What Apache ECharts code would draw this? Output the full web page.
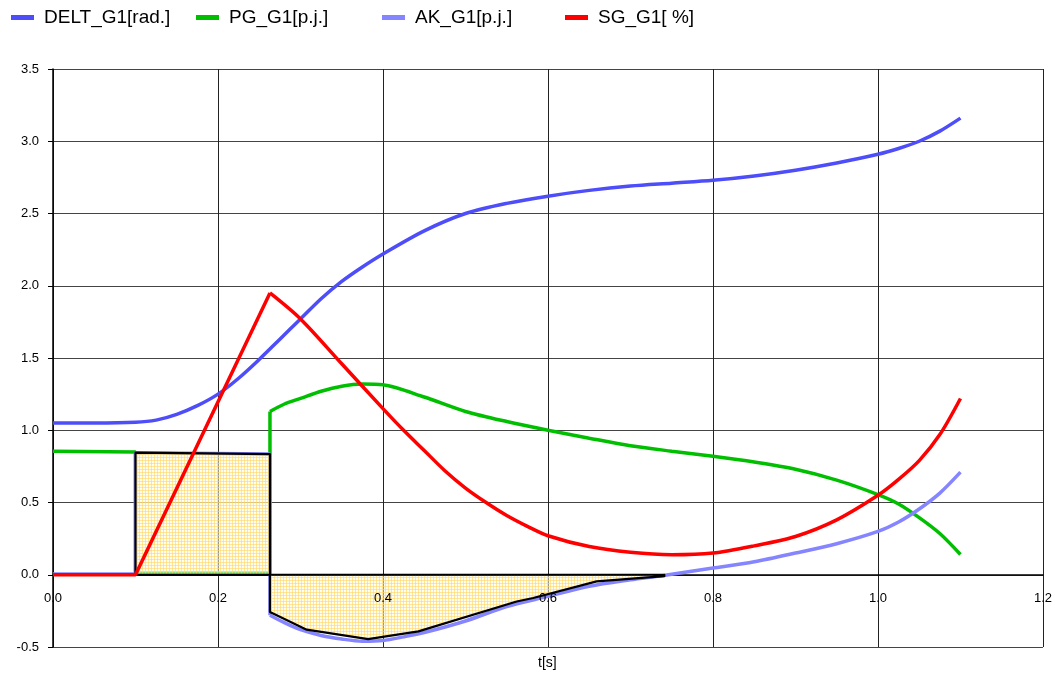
<!DOCTYPE html>
<html>
<head>
<meta charset="utf-8">
<script src="https://cdn.jsdelivr.net/npm/echarts@6/dist/echarts.min.js"></script>
<style>
  html, body { margin: 0; padding: 0; background: #fff; }
  #chart { width: 1055px; height: 675px; }
</style>
</head>
<body>
<div id="chart"></div>
<script>
// Time axis ticks [s] and value axis ticks
const xTicks = [0.0, 0.2, 0.4, 0.6, 0.8, 1.0, 1.2];
const yTicks = [-0.5, 0.0, 0.5, 1.0, 1.5, 2.0, 2.5, 3.0, 3.5];

// Series names
const seriesNames = ['DELT_G1[rad.]', 'PG_G1[p.j.]', 'AK_G1[p.j.]', 'SG_G1[ %]'];

// Rotor angle [rad]
const deltT = [0, 0.05, 0.1, 0.125, 0.15, 0.175, 0.2, 0.225, 0.25, 0.275, 0.3, 0.325, 0.35, 0.375, 0.4, 0.45, 0.5, 0.55, 0.6, 0.65, 0.7, 0.75, 0.8, 0.85, 0.9, 0.95, 1.0, 1.025, 1.05, 1.075, 1.1];
const deltV = [1.05, 1.05, 1.055, 1.07, 1.11, 1.17, 1.25, 1.36, 1.49, 1.63, 1.77, 1.91, 2.03, 2.13, 2.22, 2.38, 2.50, 2.57, 2.62, 2.66, 2.69, 2.71, 2.73, 2.76, 2.80, 2.85, 2.91, 2.95, 3.00, 3.07, 3.16];

// Electrical power [p.u.]: switching steps, then post-fault swing
const pgStepT = [0, 0.1, 0.1, 0.263, 0.263];
const pgStepV = [0.855, 0.85, 0.01, 0.01, 1.13];
const pgT = [0.263, 0.28, 0.3, 0.325, 0.35, 0.375, 0.4, 0.45, 0.5, 0.55, 0.6, 0.65, 0.7, 0.75, 0.8, 0.85, 0.9, 0.95, 1.0, 1.025, 1.05, 1.075, 1.1];
const pgV = [1.13, 1.18, 1.22, 1.27, 1.305, 1.32, 1.315, 1.23, 1.13, 1.06, 1.0, 0.945, 0.893, 0.855, 0.82, 0.78, 0.73, 0.655, 0.555, 0.49, 0.395, 0.285, 0.14];

// Accelerating power [p.u.]: switching steps, then post-fault swing
const akStepT = [0, 0.1, 0.1, 0.263, 0.263];
const akStepV = [0.005, 0.005, 0.845, 0.835, -0.28];
const akT = [0.263, 0.28, 0.3, 0.325, 0.35, 0.375, 0.4, 0.425, 0.45, 0.5, 0.55, 0.6, 0.65, 0.7, 0.74, 0.8, 0.85, 0.9, 0.95, 1.0, 1.025, 1.05, 1.075, 1.1];
const akV = [-0.28, -0.33, -0.38, -0.42, -0.445, -0.46, -0.455, -0.43, -0.40, -0.32, -0.22, -0.15, -0.08, -0.035, -0.005, 0.046, 0.09, 0.15, 0.215, 0.30, 0.365, 0.455, 0.565, 0.71];

// Slip [%]: ramp during the fault, then decay and rise
const sgRiseT = [0, 0.1, 0.263];
const sgRiseV = [0, 0, 1.95];
const sgT = [0.263, 0.3, 0.35, 0.4, 0.425, 0.45, 0.475, 0.5, 0.525, 0.55, 0.575, 0.6, 0.65, 0.7, 0.75, 0.8, 0.85, 0.9, 0.95, 1.0, 1.025, 1.05, 1.075, 1.1];
const sgV = [1.95, 1.77, 1.46, 1.15, 1.0, 0.86, 0.72, 0.60, 0.50, 0.41, 0.335, 0.27, 0.195, 0.155, 0.138, 0.15, 0.20, 0.265, 0.38, 0.55, 0.66, 0.79, 0.97, 1.22];

// Equal-area regions: accelerating area (fault) and decelerating area
const accAreaT = [0.1, 0.1, 0.263, 0.263];
const accAreaV = [0, 0.845, 0.835, 0];
const decAreaT = [0.263, 0.263, 0.3075, 0.382, 0.443, 0.562, 0.582, 0.659, 0.741, 0.741];
const decAreaV = [0, -0.258, -0.38, -0.445, -0.392, -0.185, -0.161, -0.046, -0.01, 0];

const colors = ['#4d4dfa', '#00bf00', '#8585ff', '#ff0000'];

function zip(t, v) { return t.map((x, i) => [x, v[i]]); }
const areas = [zip(accAreaT, accAreaV), zip(decAreaT, decAreaV)];

// Pale yellow cross-hatch fill
function hatch() {
  const c = document.createElement('canvas');
  c.width = 3; c.height = 3;
  const g = c.getContext('2d');
  g.fillStyle = 'rgba(255,250,228,0.55)';
  g.fillRect(0, 0, 3, 3);
  g.fillStyle = 'rgba(255,215,100,0.6)';
  g.fillRect(0, 1, 3, 1);
  g.fillRect(1, 0, 1, 3);
  return c;
}
const hatchPattern = { image: hatch(), repeat: 'repeat' };

const chart = echarts.init(document.getElementById('chart'), null, { renderer: 'canvas' });

const fontFamily = 'Liberation Sans, Arial, sans-serif';
const legendLeft = [11, 196, 382, 565];
const legends = seriesNames.map((n, i) => ({
  data: [n],
  left: legendLeft[i],
  top: 8,
  padding: 0,
  icon: 'rect',
  itemWidth: 23,
  itemHeight: 5,
  textStyle: { fontFamily: fontFamily, fontSize: 19, color: '#000', padding: [0, 0, 0, 5] }
}));

function lineSeries(i, t, v, smooth, z) {
  return {
    name: seriesNames[i],
    type: 'line',
    data: zip(t, v),
    symbol: 'none',
    smooth: smooth,
    z: z,
    lineStyle: { color: colors[i], width: 3.5 },
    itemStyle: { color: colors[i] },
    emphasis: { disabled: true },
    animation: false
  };
}

// The time axis runs along y = 0: shift it up from the bottom edge of the plot
const plotHeight = 675 - 69 - 28;
const zeroOffset = -plotHeight * (0 - yTicks[0]) / (yTicks[yTicks.length - 1] - yTicks[0]);

const xBase = {
  type: 'value',
  min: xTicks[0],
  max: xTicks[xTicks.length - 1],
  interval: 0.2,
  position: 'bottom',
  offset: zeroOffset
};

const option = {
  animation: false,
  legend: legends,
  grid: { left: 53, right: 12, top: 69, bottom: 28, containLabel: false },
  graphic: [{
    type: 'text',
    left: 538,
    top: 656,
    style: { text: 't[s]', fontFamily: fontFamily, fontSize: 14, fill: '#000' }
  }],
  xAxis: [
    // grid lines and the zero line
    Object.assign({}, xBase, {
      axisLine: { onZero: false, lineStyle: { color: '#000', width: 1.5 } },
      axisTick: { show: false },
      axisLabel: { show: false },
      splitLine: { show: true, lineStyle: { color: '#222', width: 1 } }
    }),
    // tick labels, drawn above the shaded areas
    Object.assign({}, xBase, {
      z: 10,
      axisLine: { show: false, onZero: false },
      axisTick: { show: false },
      splitLine: { show: false },
      axisLabel: {
        margin: 17,
        color: '#000',
        fontFamily: fontFamily,
        fontSize: 13,
        formatter: v => v.toFixed(1)
      }
    })
  ],
  yAxis: {
    type: 'value',
    min: yTicks[0],
    max: yTicks[yTicks.length - 1],
    interval: 0.5,
    axisLine: { show: true, onZero: false, lineStyle: { color: '#000', width: 1.5 } },
    axisTick: { show: true, inside: false, length: 5, lineStyle: { color: '#000' } },
    axisLabel: {
      margin: 14,
      color: '#000',
      fontFamily: fontFamily,
      fontSize: 13,
      formatter: v => v.toFixed(1)
    },
    splitLine: { show: true, lineStyle: { color: '#444', width: 1 } }
  },
  series: [
    lineSeries(0, deltT, deltV, 0.3, 2),
    lineSeries(1, pgStepT, pgStepV, false, 2),
    lineSeries(1, pgT, pgV, 0.3, 2),
    lineSeries(2, akStepT, akStepV, false, 2),
    lineSeries(2, akT, akV, 0.3, 2),
    {
      name: 'areas',
      type: 'custom',
      coordinateSystem: 'cartesian2d',
      data: areas.map(a => a[0]),
      z: 3,
      renderItem: function (params, api) {
        const pts = areas[params.dataIndex].map(p => api.coord(p));
        return {
          type: 'polygon',
          shape: { points: pts },
          style: { fill: hatchPattern, stroke: '#000', lineWidth: 2.2, lineJoin: 'round' }
        };
      },
      silent: true,
      animation: false
    },
    lineSeries(3, sgRiseT, sgRiseV, false, 4),
    lineSeries(3, sgT, sgV, 0.3, 4)
  ]
};

chart.setOption(option);
</script>
</body>
</html>
